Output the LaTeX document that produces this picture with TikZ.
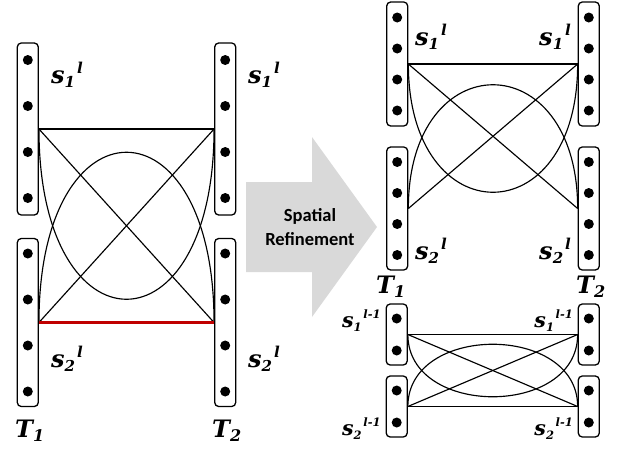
\documentclass[tikz,border=0pt]{standalone}
\usepackage{fontspec}
\newfontfamily\lfont{DejaVu Serif}
\newfontfamily\afont{Carlito}
\usetikzlibrary{calc}
\definecolor{arrowgray}{HTML}{D9D9D9}
\definecolor{darkred}{HTML}{C00000}
\newcommand\biglabfont{\lfont\bfseries\itshape\fontsize{24}{24}\selectfont}
\newcommand\smalllabfont{\lfont\bfseries\itshape\fontsize{20.5}{20.5}\selectfont}
\newcommand\arrowfont{\afont\bfseries\fontsize{18.5}{24}\selectfont}
\newcommand\slab[4]{#2\raisebox{-0.2em}{\fontsize{#1}{#1}\selectfont #3}\kern0.08em\raisebox{0.4em}{\fontsize{#1}{#1}\selectfont #4}}
\begin{document}
\begin{tikzpicture}[x=1pt,y=-1pt,
  bar/.style={draw, line width=1.3pt, rounded corners=4pt, minimum width=21pt, inner sep=0pt, fill=white},
  dotn/.style={circle, fill=black, inner sep=0pt, minimum size=10pt},
  link/.style={line width=1.15pt},
  redlink/.style={line width=3pt, draw=darkred},
  lab/.style={inner sep=0pt, anchor=base west, font=\biglabfont},
  labr/.style={lab, anchor=base east},
  smalllab/.style={inner sep=0pt, anchor=base west, font=\smalllabfont},
  smalllabr/.style={smalllab, anchor=base east},
  arrowtext/.style={font=\arrowfont, align=center, inner sep=0pt}
]
\useasboundingbox (0,0) rectangle (618,451);

% ---------- arrow ----------
\fill[arrowgray] (246,182) -- (312,182) -- (312,137) -- (377,227) -- (312,317) -- (312,272) -- (246,272) -- cycle;
\node[arrowtext] (txt) at (310,227) {Spatial\\Refinement};

% ---------- left panel ----------
\node[bar, minimum height=172pt] (LA) at (27.8,129) {};
\node[bar, minimum height=168pt] (LB) at (27.8,322.5) {};
\node[bar, minimum height=172pt] (RA) at (225.2,129) {};
\node[bar, minimum height=168pt] (RB) at (225.2,322.5) {};
\foreach \b in {LA,LB,RA,RB}
  \foreach \d [count=\i] in {-69,-23,23,69}
    \node[dotn] (\b\i) at ($(\b.center)+(0,\d)$) {};
\draw[link] (LA.east) -- (RA.west);
\draw[link] (LA.east) -- (RB.west);
\draw[link] (LB.east) -- (RA.west);
\draw[link] (LA.east) .. controls +(0,227) and +(0,227) .. (RA.west);
\draw[link] (LB.east) .. controls +(0,-227) and +(0,-227) .. (RB.west);
\draw[redlink] (LB.east) -- (RB.west);

\node[lab] (l1) at (51,83) {\slab{15}{s}{1}{l}};
\node[lab] (l2) at (248,83) {\slab{15}{s}{1}{l}};
\node[lab] (l3) at (51,367) {\slab{15}{s}{2}{l}};
\node[lab] (l4) at (248,367) {\slab{15}{s}{2}{l}};
\node[lab] (t1) at (15,437) {\slab{16}{T}{1}{}};
\node[lab] (t2) at (212,437) {\slab{16}{T}{2}{}};

% ---------- right top panel ----------
\node[bar, minimum height=124pt] (PA) at (397.2,64) {};
\node[bar, minimum height=123pt] (PB) at (397.2,208.5) {};
\node[bar, minimum height=124pt] (QA) at (588.8,64) {};
\node[bar, minimum height=123pt] (QB) at (588.8,208.5) {};
\foreach \b in {PA,PB,QA,QB}
  \foreach \d [count=\i] in {-46.5,-15.5,15.5,46.5}
    \node[dotn] (\b\i) at ($(\b.center)+(0,\d)$) {};
\draw[link] (PA.east) -- (QA.west);
\draw[link] (PA.east) -- (QB.west);
\draw[link] (PB.east) -- (QA.west);
\draw[link] (PA.east) .. controls +(0,171) and +(0,171) .. (QA.west);
\draw[link] (PB.east) .. controls +(0,-165) and +(0,-165) .. (QB.west);

\node[lab] (m1) at (415,45) {\slab{15}{s}{1}{l}};
\node[labr] (m2) at (571,45) {\slab{15}{s}{1}{l}};
\node[lab] (m3) at (415,259) {\slab{15}{s}{2}{l}};
\node[labr] (m4) at (571,259) {\slab{15}{s}{2}{l}};
\node[lab] (t3) at (376,293) {\slab{16}{T}{1}{}};
\node[lab] (t4) at (576,293) {\slab{16}{T}{2}{}};

% ---------- right bottom panel ----------
\node[bar, minimum height=61pt] (UA) at (396.7,334.5) {};
\node[bar, minimum height=61pt] (UB) at (396.7,406.5) {};
\node[bar, minimum height=61pt] (VA) at (588.8,334.5) {};
\node[bar, minimum height=61pt] (VB) at (588.8,406.5) {};
\foreach \b in {UA,UB,VA,VB}
  \foreach \d [count=\i] in {-16,16}
    \node[dotn] (\b\i) at ($(\b.center)+(0,\d)$) {};
\draw[link] (UA.east) -- (VA.west);
\draw[link] (UB.east) -- (VB.west);
\draw[link] (UA.east) -- (VB.west);
\draw[link] (UB.east) -- (VA.west);
\draw[link] (UA.east) .. controls +(0,83) and +(0,83) .. (VA.west);
\draw[link] (UB.east) .. controls +(0,-83) and +(0,-83) .. (VB.west);

\node[smalllab] (n1) at (342,327) {\slab{11.5}{s}{1}{l-1}};
\node[smalllabr] (n2) at (573,327) {\slab{11.5}{s}{1}{l-1}};
\node[smalllab] (n3) at (342,435) {\slab{11.5}{s}{2}{l-1}};
\node[smalllabr] (n4) at (573,435) {\slab{11.5}{s}{2}{l-1}};
\end{tikzpicture}
\end{document}
